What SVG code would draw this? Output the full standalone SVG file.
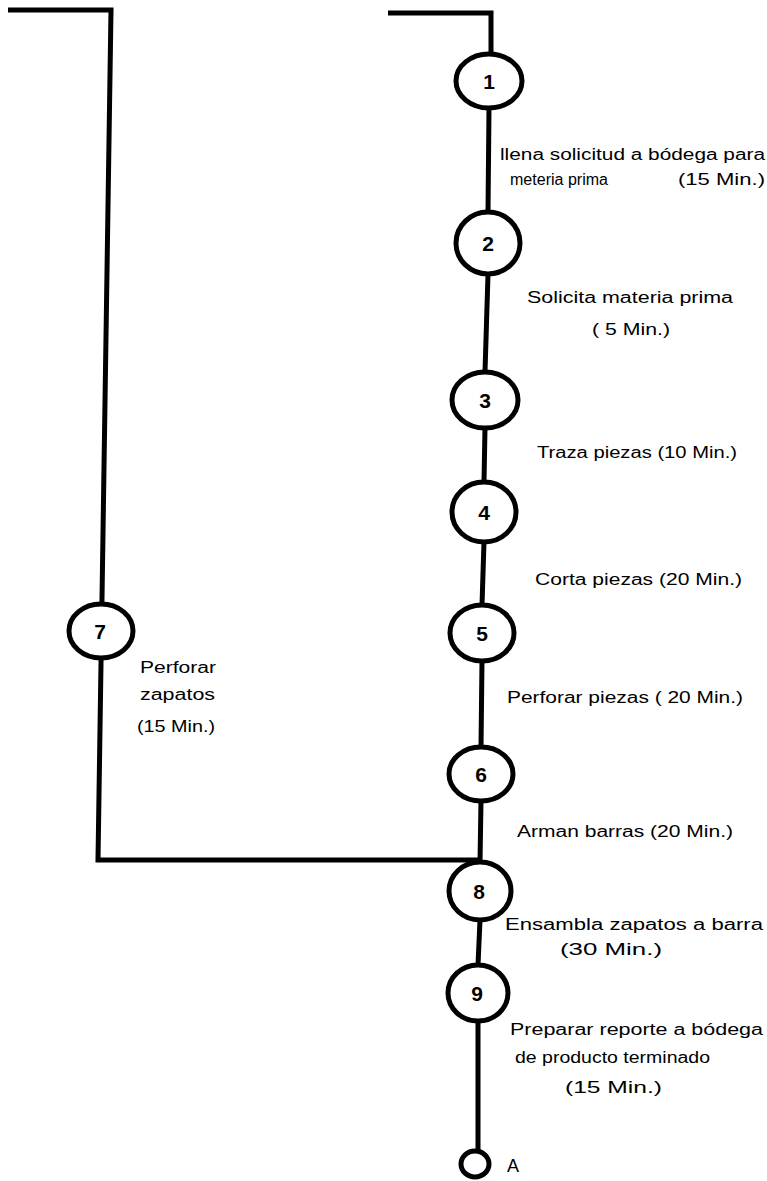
<svg xmlns="http://www.w3.org/2000/svg" width="767" height="1181" viewBox="0 0 767 1181">
<style>
.ln{fill:none;stroke:#000;stroke-width:5;stroke-linejoin:miter}
.nd{fill:#fff;stroke:#000;stroke-width:5}
.num{font-family:"Liberation Sans",Arial,sans-serif;font-weight:bold;font-size:21px;text-anchor:middle;fill:#000}
.lb{font-family:"Liberation Sans",Arial,sans-serif;font-size:16px;fill:#000}
</style>
<rect width="767" height="1181" fill="#fff"/>
<g id="connectors">
<polyline class="ln" points="8,10 111,10 98,860 480,860"/>
<polyline class="ln" points="388,13 491,13 491,54"/>
<line class="ln" x1="489" y1="108" x2="488" y2="212"/>
<line class="ln" x1="488" y1="274" x2="485" y2="372"/>
<line class="ln" x1="485" y1="428" x2="484" y2="482"/>
<line class="ln" x1="484" y1="542" x2="482" y2="605"/>
<line class="ln" x1="482" y1="661" x2="481" y2="747"/>
<line class="ln" x1="481" y1="801" x2="480" y2="862"/>
<line class="ln" x1="480" y1="920" x2="478" y2="965"/>
<line class="ln" x1="478" y1="1021" x2="478" y2="1151"/>
</g>
<g id="node1"><ellipse class="nd" cx="489" cy="81" rx="33" ry="27"/><text class="num" x="489" y="89">1</text></g>
<g id="node2"><ellipse class="nd" cx="488" cy="243" rx="32" ry="31"/><text class="num" x="488" y="251">2</text></g>
<g id="node3"><ellipse class="nd" cx="485" cy="400" rx="33" ry="28"/><text class="num" x="485" y="408">3</text></g>
<g id="node4"><ellipse class="nd" cx="484" cy="512" rx="32" ry="30"/><text class="num" x="484" y="520">4</text></g>
<g id="node5"><ellipse class="nd" cx="482" cy="633" rx="32" ry="28"/><text class="num" x="482" y="641">5</text></g>
<g id="node6"><ellipse class="nd" cx="481" cy="774" rx="32" ry="27"/><text class="num" x="481" y="782">6</text></g>
<g id="node7"><ellipse class="nd" cx="101" cy="631" rx="32" ry="27"/><text class="num" x="100" y="639">7</text></g>
<g id="node8"><ellipse class="nd" cx="480" cy="891" rx="31" ry="29"/><text class="num" x="479" y="899">8</text></g>
<g id="node9"><ellipse class="nd" cx="478" cy="993" rx="30" ry="28"/><text class="num" x="477" y="1001">9</text></g>
<g id="nodeA"><ellipse class="nd" cx="475" cy="1164" rx="14" ry="13"/><text class="lb" x="507" y="1172" style="font-size:18px">A</text></g>
<g id="labels">
<text class="lb" x="500" y="160" textLength="265" lengthAdjust="spacingAndGlyphs">llena solicitud a bódega para</text>
<text class="lb" x="510" y="185" textLength="98" lengthAdjust="spacingAndGlyphs">meteria prima</text>
<text class="lb" x="678" y="185" textLength="87" lengthAdjust="spacingAndGlyphs">(15 Min.)</text>
<text class="lb" x="527" y="303" textLength="206" lengthAdjust="spacingAndGlyphs">Solicita materia prima</text>
<text class="lb" x="592" y="335" textLength="78" lengthAdjust="spacingAndGlyphs">( 5 Min.)</text>
<text class="lb" x="537" y="458" textLength="200" lengthAdjust="spacingAndGlyphs">Traza piezas (10 Min.)</text>
<text class="lb" x="535" y="585" textLength="207" lengthAdjust="spacingAndGlyphs">Corta piezas (20 Min.)</text>
<text class="lb" x="507" y="703" textLength="236" lengthAdjust="spacingAndGlyphs">Perforar piezas ( 20 Min.)</text>
<text class="lb" x="517" y="837" textLength="216" lengthAdjust="spacingAndGlyphs">Arman barras (20 Min.)</text>
<text class="lb" x="505" y="930" textLength="258" lengthAdjust="spacingAndGlyphs">Ensambla zapatos a barra</text>
<text class="lb" x="560" y="955" textLength="102" lengthAdjust="spacingAndGlyphs">(30 Min.)</text>
<text class="lb" x="510" y="1035" textLength="253" lengthAdjust="spacingAndGlyphs">Preparar reporte a bódega</text>
<text class="lb" x="515" y="1063" textLength="195" lengthAdjust="spacingAndGlyphs">de producto terminado</text>
<text class="lb" x="565" y="1093" textLength="97" lengthAdjust="spacingAndGlyphs">(15 Min.)</text>
<text class="lb" x="140" y="673" textLength="76" lengthAdjust="spacingAndGlyphs">Perforar</text>
<text class="lb" x="140" y="700" textLength="75" lengthAdjust="spacingAndGlyphs">zapatos</text>
<text class="lb" x="137" y="732" textLength="78" lengthAdjust="spacingAndGlyphs">(15 Min.)</text>
</g>
</svg>
